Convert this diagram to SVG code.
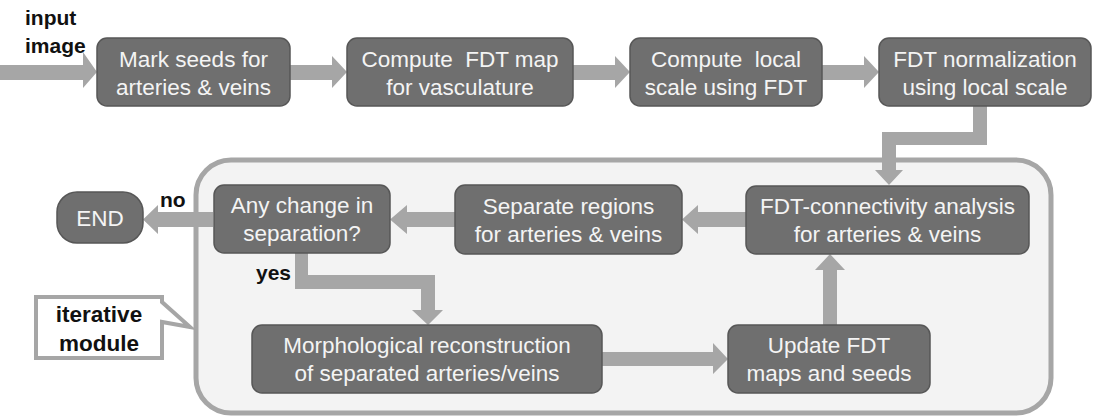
<svg xmlns="http://www.w3.org/2000/svg" width="1094" height="419" viewBox="0 0 1094 419">
<style>
.box{fill:#6f6f6f;stroke:#575757;stroke-width:1.5}
.t{font-family:"Liberation Sans",Arial,sans-serif;font-size:22.5px;fill:#f4f4f4;text-anchor:middle}
.lbl{font-family:"Liberation Sans",Arial,sans-serif;font-size:21px;font-weight:bold;fill:#111}
.co{font-size:22.5px;text-anchor:middle}
.arr{fill:#a6a6a6;stroke:none}
</style>
<rect width="1094" height="419" fill="#ffffff"/>
<g id="iterative_container">
<rect x="196" y="160" width="855" height="253" rx="35" ry="35" fill="#f3f3f3" stroke="#a6a6a6" stroke-width="5"/>
</g>
<g id="callout">
<path d="M36,297 L162,297 L162,302 L190,327 L162,322 L162,358 L36,358 Z" fill="#ffffff" stroke="#a6a6a6" stroke-width="4" stroke-linejoin="miter"/>
<text class="lbl co" x="99" y="322">iterative</text>
<text class="lbl co" x="99" y="351">module</text>
</g>
<g id="connectors">
<path class="arr" d="M0,65 H83 V52 L97,72 L83,88 V80 H0 Z"/>
<path class="arr" d="M290,65 H332 V56 L347,72 L332,88 V80 H290 Z"/>
<path class="arr" d="M573,65 H615 V56 L630,72 L615,88 V80 H573 Z"/>
<path class="arr" d="M822,65 H864 V56 L879,72 L864,88 V80 H822 Z"/>
<path class="arr" d="M973,106 H987 V145 H896 V170 H903 L889,185 L875,170 H882 V132 H973 Z"/>
<path class="arr" d="M747,212 H698 V205 L682,219.5 L698,234 V227 H747 Z"/>
<path class="arr" d="M455,212 H407 V205 L390,219.5 L407,234 V227 H455 Z"/>
<path class="arr" d="M213,212 H158 V205 L143,219.5 L158,234 V227 H213 Z"/>
<path class="arr" d="M295,253 H308 V275 H435 V310 H443 L428,325 L412,310 H421 V289 H295 Z"/>
<path class="arr" d="M602,352 H713 V343 L728,359 L713,374 V366 H602 Z"/>
<path class="arr" d="M823,325 V270 H815 L830,254 L845,270 H837 V325 Z"/>
</g>
<g id="input_label">
<text class="lbl" x="25" y="25">input</text>
<text class="lbl" x="25" y="53">image</text>
</g>
<g id="n_mark_seeds">
<rect class="box" x="97" y="38" width="193" height="68" rx="10"/>
<text class="t" x="193.5" y="67">Mark seeds for</text>
<text class="t" x="193.5" y="95">arteries &amp; veins</text>
</g>
<g id="n_compute_fdt">
<rect class="box" x="347" y="38" width="226" height="68" rx="10"/>
<text class="t" x="460" y="67" xml:space="preserve">Compute  FDT map</text>
<text class="t" x="460" y="95">for vasculature</text>
</g>
<g id="n_local_scale">
<rect class="box" x="630" y="38" width="192" height="68" rx="10"/>
<text class="t" x="726" y="67" xml:space="preserve">Compute  local</text>
<text class="t" x="726" y="95">scale using FDT</text>
</g>
<g id="n_normalization">
<rect class="box" x="879" y="38" width="212" height="68" rx="10"/>
<text class="t" x="985" y="67">FDT normalization</text>
<text class="t" x="985" y="95">using local scale</text>
</g>
<g id="n_connectivity">
<rect class="box" x="746" y="186" width="283" height="68" rx="10"/>
<text class="t" x="887.5" y="214">FDT-connectivity analysis</text>
<text class="t" x="887.5" y="242">for arteries &amp; veins</text>
</g>
<g id="n_separate">
<rect class="box" x="455" y="185" width="227" height="69" rx="10"/>
<text class="t" x="568.5" y="214">Separate regions</text>
<text class="t" x="568.5" y="242">for arteries &amp; veins</text>
</g>
<g id="n_any_change">
<rect class="box" x="214" y="185" width="176" height="68" rx="10"/>
<text class="t" x="302" y="213">Any change in</text>
<text class="t" x="302" y="241">separation?</text>
</g>
<g id="n_end">
<rect class="box" x="57" y="192" width="86" height="51" rx="20"/>
<text class="t" x="100" y="226">END</text>
</g>
<g id="n_morph">
<rect class="box" x="252" y="325" width="350" height="68" rx="10"/>
<text class="t" x="427" y="353">Morphological reconstruction</text>
<text class="t" x="427" y="381">of separated arteries/veins</text>
</g>
<g id="n_update">
<rect class="box" x="728" y="325" width="202" height="68" rx="10"/>
<text class="t" x="829" y="353">Update FDT</text>
<text class="t" x="829" y="381">maps and seeds</text>
</g>
<g id="edge_labels">
<text class="lbl" x="160" y="207">no</text>
<text class="lbl" x="256" y="280">yes</text>
</g>
</svg>
